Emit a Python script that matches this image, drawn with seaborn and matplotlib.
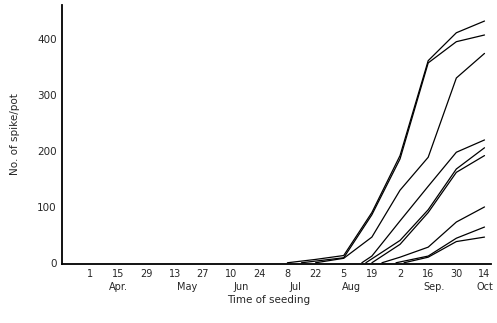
import matplotlib
matplotlib.use("Agg")
import matplotlib.pyplot as plt
import seaborn as sns
import pandas as pd

# x = days since 1 April (ticks every 14 days)
tick_days = [0, 14, 28, 42, 56, 70, 84, 98, 112, 126, 140, 154, 168, 182, 196]
tick_labels = ["1", "15", "29", "13", "27", "10", "24", "8", "22", "5", "19", "2", "16", "30", "14"]
month_labels = ["Apr.", "May", "Jun", "Jul", "Aug", "Sep.", "Oct"]
month_days = [14, 48, 75, 102, 130, 171, 196]

s1_x = [98, 112, 126, 140, 154, 168, 182, 196]
s1_y = [0, 6, 13, 90, 192, 362, 412, 433]
s2_x = [105, 126, 140, 154, 168, 182, 196]
s2_y = [0, 9, 86, 186, 358, 396, 408]
s3_x = [112, 126, 140, 154, 168, 182, 196]
s3_y = [0, 8, 46, 130, 189, 331, 375]
s4_x = [135, 140, 154, 168, 182, 196]
s4_y = [0, 12, 75, 137, 198, 220]
s5_x = [137, 154, 168, 182, 196]
s5_y = [0, 40, 95, 168, 206]
s6_x = [140, 154, 168, 182, 196]
s6_y = [0, 33, 90, 162, 192]
s7_x = [145, 154, 168, 182, 196]
s7_y = [0, 10, 28, 73, 100]
s8_x = [152, 168, 182, 196]
s8_y = [0, 12, 44, 64]
s9_x = [156, 168, 182, 196]
s9_y = [0, 10, 38, 46]

series = [(s1_x, s1_y), (s2_x, s2_y), (s3_x, s3_y), (s4_x, s4_y), (s5_x, s5_y),
          (s6_x, s6_y), (s7_x, s7_y), (s8_x, s8_y), (s9_x, s9_y)]
rows = []
for i, (xs, ys) in enumerate(series):
    for x, y in zip(xs, ys):
        rows.append({"day": x, "value": y, "line": i})
df = pd.DataFrame(rows)

sns.set_style("white")
plt.rcParams["font.family"] = ["DejaVu Sans"]

fig = plt.figure(figsize=(4.97, 3.23), dpi=100)
ax = fig.add_axes([0.125, 0.183, 0.862, 0.802])

sns.lineplot(data=df, x="day", y="value", units="line", estimator=None,
             color="black", linewidth=0.9, ax=ax, sort=False)

ax.set_xlim(-14, 199)
ax.set_ylim(-2, 462)
ax.set_xticks(tick_days)
ax.set_xticklabels(tick_labels, fontsize=7)
ax.set_yticks([0, 100, 200, 300, 400])
ax.set_yticklabels(["0", "100", "200", "300", "400"], fontsize=7.5)
ax.tick_params(axis="x", direction="inout", length=4, width=0.8, pad=2)
ax.tick_params(axis="y", direction="out", length=3, width=0.8, pad=1)
for s in ["top", "right"]:
    ax.spines[s].set_visible(False)
for s in ["left", "bottom"]:
    ax.spines[s].set_linewidth(1.3)
    ax.spines[s].set_color("black")

ax.set_xlabel("")
ax.set_ylabel("No. of spike/pot", fontsize=7.5, labelpad=12)

for lab, d in zip(month_labels, month_days):
    ax.text(d, -0.07, lab, transform=ax.get_xaxis_transform(), ha="center",
            va="top", fontsize=7)

fig.text(269 / 497, 1 - 300 / 323, "Time of seeding", ha="center", va="center",
         fontsize=7.5)

fig.savefig("out.png", dpi=100, facecolor="white")
